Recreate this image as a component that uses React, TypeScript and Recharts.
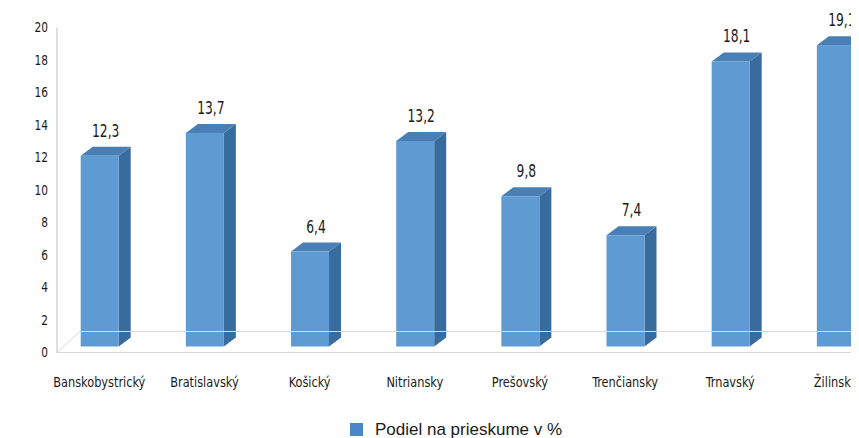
import { BarChart, Bar, XAxis, YAxis, LabelList, ReferenceLine } from "recharts";

const regions = [
  "Banskobystrický",
  "Bratislavský",
  "Košický",
  "Nitriansky",
  "Prešovský",
  "Trenčiansky",
  "Trnavský",
  "Žilinský",
];
const shares = [12.3, 13.7, 6.4, 13.2, 9.8, 7.4, 18.1, 19.1];
const yTicks = [0, 2, 4, 6, 8, 10, 12, 14, 16, 18, 20];
const seriesName = "Podiel na prieskume v %";

const data = regions.map((region, i) => ({ region, share: shares[i] }));

const FONT = '"DejaVu Sans Condensed", "DejaVu Sans", sans-serif';

// fake 3D column: front face, lit top, dark side
function Bar3D(props: any) {
  const { x, y, width, height } = props;
  const dx = 12;
  const dy = 9;
  const top = y + 3;
  const bottom = y + height - 6;
  return (
    <g>
      <polygon
        points={`${x + width},${top} ${x + width + dx},${top - dy} ${x + width + dx},${bottom - dy} ${x + width},${bottom}`}
        fill="#386c9f"
      />
      <polygon
        points={`${x},${top} ${x + width},${top} ${x + width + dx},${top - dy} ${x + dx},${top - dy}`}
        fill="#4a7fb6"
      />
      <rect x={x} y={top} width={width} height={bottom - top} fill="#5e9bd3" />
    </g>
  );
}

// back edge of the floor plus the little diagonal at the left wall
function Floor(props: any) {
  const { x1, y1, x2 } = props;
  return (
    <path
      d={`M${x1},${y1} L${x1 + 23},${y1 - 21} L${x2},${y1 - 21}`}
      fill="none"
      stroke="#d9d9d9"
      strokeWidth={1}
    />
  );
}

// the original uses a condensed face, so squeeze the text horizontally
function XTick(props: any) {
  const { x, y, payload } = props;
  return (
    <g transform={`translate(${x},${y})`}>
      <text
        transform="scale(0.87,1)"
        textAnchor="middle"
        dy="0.71em"
        fill="#1a1a1a"
        fontSize={14.5}
        fontFamily={FONT}
      >
        {payload.value}
      </text>
    </g>
  );
}

function YTick(props: any) {
  const { x, y, payload } = props;
  return (
    <g transform={`translate(${x},${y})`}>
      <text
        transform="scale(0.84,1)"
        textAnchor="end"
        dy="0.355em"
        fill="#1a1a1a"
        fontSize={14}
        fontFamily={FONT}
      >
        {payload.value}
      </text>
    </g>
  );
}

function ValueLabel(props: any) {
  const { x, y, width, value } = props;
  return (
    <g transform={`translate(${x + width / 2 + 6},${y - 16})`}>
      <text
        transform="scale(0.78,1)"
        textAnchor="middle"
        fill="#1a1a1a"
        fontSize={17.5}
        fontFamily={FONT}
      >
        {String(value).replace(".", ",")}
      </text>
    </g>
  );
}

export default function App() {
  return (
    <div style={{ position: "relative", width: 851, height: 430, overflow: "hidden" }}>
      <BarChart
        width={880}
        height={430}
        data={data}
        margin={{ top: 19.5, right: 0, bottom: 55.5, left: 0 }}
      >
        <XAxis
          dataKey="region"
          interval={0}
          padding={{ left: -10.3, right: 0 }}
          tickLine={false}
          tickSize={0}
          tickMargin={24}
          axisLine={{ stroke: "#d9d9d9" }}
          tick={<XTick />}
        />
        <YAxis
          domain={[0, 20]}
          ticks={yTicks}
          width={49}
          tickLine={false}
          tickSize={0}
          tickMargin={9}
          axisLine={{ stroke: "#bfbfbf" }}
          tick={<YTick />}
        />
        <ReferenceLine y={0} shape={Floor} />
        <Bar
          dataKey="share"
          name={seriesName}
          barSize={38}
          shape={Bar3D}
          isAnimationActive={false}
        >
          <LabelList dataKey="share" content={ValueLabel} />
        </Bar>
      </BarChart>
      <div
        style={{
          position: "absolute",
          left: 342,
          top: 415,
          width: 13,
          height: 13,
          background: "#4a86c8",
        }}
      />
      <div
        style={{
          position: "absolute",
          left: 367,
          top: 413,
          fontSize: 17,
          lineHeight: "17px",
          whiteSpace: "nowrap",
          color: "#1a1a1a",
          fontFamily: '"Liberation Sans", Arial, sans-serif',
        }}
      >
        {seriesName}
      </div>
    </div>
  );
}
